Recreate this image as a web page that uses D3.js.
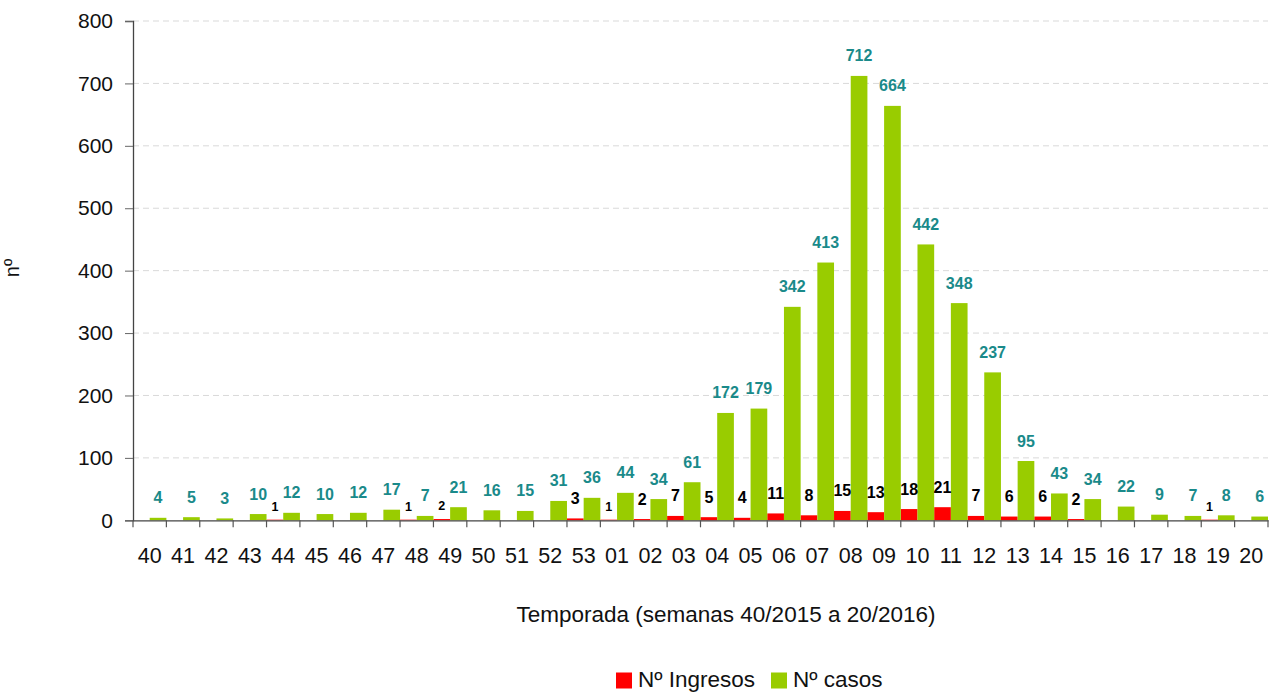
<!DOCTYPE html>
<html>
<head>
<meta charset="utf-8">
<script src="https://cdn.jsdelivr.net/npm/d3@7"></script>
<style>
  html, body { margin: 0; padding: 0; background: #fff; }
  svg { display: block; font-family: "Liberation Sans", Arial, sans-serif; }
</style>
</head>
<body>
<svg id="chart" width="1272" height="693"></svg>
<script>
const weeks = ["40","41","42","43","44","45","46","47","48","49","50","51","52","53","01","02","03","04","05","06","07","08","09","10","11","12","13","14","15","16","17","18","19","20"];
const ingresos = [0,0,0,0,1,0,0,0,1,2,0,0,0,3,1,2,7,5,4,11,8,15,13,18,21,7,6,6,2,0,0,0,1,0];
const casos = [4,5,3,10,12,10,12,17,7,21,16,15,31,36,44,34,61,172,179,342,413,712,664,442,348,237,95,43,34,22,9,7,8,6];
// weeks whose ingresos label is drawn small in the original
const smallIngresosLabels = ["44","48","49","01","19"];
const yTicks = [0,100,200,300,400,500,600,700,800];
const seriesNames = ["Nº Ingresos", "Nº casos"];
const colors = { ingresos: "#ff0000", casos: "#99cc00", casosLabel: "#1a8a8a", ingresosLabel: "#000000" };

const svg = d3.select("#chart");
const mLeft = 133, mRight = 1268, mTop = 21, mBottom = 520.3;

const x = d3.scaleBand().domain(weeks).range([mLeft, mRight]).padding(0);
const y = d3.scaleLinear().domain([0, 800]).range([mBottom, mTop]);
const bw = x.bandwidth();

// gridlines
svg.append("g").selectAll("line").data(yTicks.filter(d => d > 0)).join("line")
  .attr("x1", mLeft).attr("x2", mRight)
  .attr("y1", d => y(d)).attr("y2", d => y(d))
  .attr("stroke", "#d9d9d9").attr("stroke-width", 1)
  .attr("stroke-dasharray", "6,4");

// bars
svg.append("g").selectAll("rect").data(weeks).join("rect")
  .attr("x", d => x(d))
  .attr("width", bw / 2)
  .attr("y", (d, i) => y(ingresos[i]))
  .attr("height", (d, i) => y(0) - y(ingresos[i]))
  .attr("fill", colors.ingresos);

svg.append("g").selectAll("rect").data(weeks).join("rect")
  .attr("x", d => x(d) + bw / 2)
  .attr("width", bw / 2)
  .attr("y", (d, i) => y(casos[i]))
  .attr("height", (d, i) => y(0) - y(casos[i]))
  .attr("fill", colors.casos);

// y axis
const yAxis = d3.axisLeft(y).tickValues(yTicks).tickSize(8).tickPadding(12);
const gy = svg.append("g").attr("transform", `translate(${mLeft},0)`).call(yAxis);
gy.select(".domain").attr("stroke", "#444").attr("stroke-width", 1.3);
gy.selectAll(".tick line").attr("stroke", "#666");
gy.selectAll("text").attr("font-size", 21).attr("fill", "#111")
  .attr("font-family", "Liberation Sans, Arial, sans-serif");

// x axis
const xAxis = d3.axisBottom(x).tickSize(0).tickPadding(27.5);
const gx = svg.append("g").attr("transform", `translate(0,${mBottom})`).call(xAxis);
gx.select(".domain").attr("stroke", "#444").attr("stroke-width", 1.3);
gx.selectAll("text").attr("font-size", 21.5).attr("fill", "#111")
  .attr("font-family", "Liberation Sans, Arial, sans-serif");
// boundary tick marks
svg.append("g").selectAll("line").data(d3.range(weeks.length + 1)).join("line")
  .attr("x1", i => mLeft + i * bw).attr("x2", i => mLeft + i * bw)
  .attr("y1", mBottom).attr("y2", mBottom + 7)
  .attr("stroke", "#555").attr("stroke-width", 1.2);

// labels casos
svg.append("g").selectAll("text").data(weeks).join("text")
  .attr("x", d => x(d) + bw * 0.75)
  .attr("y", (d, i) => y(casos[i]) - 14.5)
  .attr("text-anchor", "middle")
  .attr("font-size", 16).attr("font-weight", "bold")
  .attr("fill", colors.casosLabel)
  .text((d, i) => casos[i]);

// labels ingresos
svg.append("g").selectAll("text").data(weeks.filter((d, i) => ingresos[i] > 0)).join("text")
  .attr("x", d => x(d) + bw * 0.25)
  .attr("y", d => {
    const v = ingresos[weeks.indexOf(d)];
    return smallIngresosLabels.includes(d) ? y(v) - 9 : y(v) - 14.5;
  })
  .attr("text-anchor", "middle")
  .attr("font-size", d => smallIngresosLabels.includes(d) ? 12.5 : 16)
  .attr("font-weight", "bold")
  .attr("fill", colors.ingresosLabel)
  .text(d => ingresos[weeks.indexOf(d)]);

// axis titles
svg.append("text").attr("x", 726).attr("y", 622).attr("text-anchor", "middle")
  .attr("font-size", 22.5).attr("fill", "#111")
  .text("Temporada (semanas 40/2015 a 20/2016)");
svg.append("text").attr("transform", "translate(19,268) rotate(-90)")
  .attr("text-anchor", "middle").attr("font-size", 20).attr("fill", "#111")
  .text("nº");

// legend
const legend = svg.append("g");
const legendItems = [
  { name: seriesNames[0], color: colors.ingresos, x: 616 },
  { name: seriesNames[1], color: colors.casos, x: 771 }
];
legendItems.forEach(it => {
  legend.append("rect").attr("x", it.x).attr("y", 672.5).attr("width", 16).attr("height", 16).attr("fill", it.color);
  legend.append("text").attr("x", it.x + 22).attr("y", 687).attr("font-size", 22.5).attr("fill", "#111").text(it.name);
});
</script>
</body>
</html>
